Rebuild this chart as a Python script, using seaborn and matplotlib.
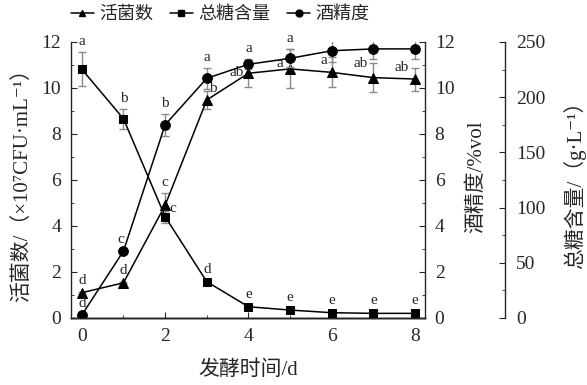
import matplotlib
matplotlib.use("Agg")
import matplotlib.pyplot as plt
from matplotlib.ticker import MultipleLocator
from matplotlib.lines import Line2D
import seaborn as sns
import pandas as pd

# ---------------- data ----------------
days = [0, 1, 2, 3, 4, 5, 6, 7, 8]
viable = [1.10, 1.53, 4.90, 9.48, 10.64, 10.83, 10.68, 10.45, 10.39]
viable_err = [0.05, 0.05, 0.52, 0.41, 0.59, 0.85, 0.65, 0.63, 0.50]
viable_letters = ["d", "d", "c", "b", "ab", "a", "a", "ab", "ab"]

sugar = [225.3, 180.5, 91.8, 32.9, 10.2, 7.2, 4.8, 4.2, 4.2]
sugar_err = [15.4, 9.0, 5.4, 0.8, 0.5, 0.5, 0.5, 0.5, 0.5]
sugar_letters = ["a", "b", "c", "d", "e", "e", "e", "e", "e"]

alcohol = [0.13, 2.91, 8.40, 10.42, 11.03, 11.29, 11.62, 11.70, 11.70]
alcohol_err = [0.02, 0.05, 0.48, 0.46, 0.22, 0.39, 0.47, 0.43, 0.43]
alcohol_letters = ["d", "c", "b", "a", "a", "a", "a", "a", "a"]

legend_labels = ["活菌数", "总糖含量", "酒精度"]
xlabel = "发酵时间/d"
ylabel_left = "活菌数/（×10⁷CFU·mL⁻¹）"
ylabel_alc = "酒精度/%vol"
ylabel_sugar = "总糖含量/（g·L⁻¹）"

# ---------------- style ----------------
sns.set_style("ticks")
FAM = ["Liberation Serif", "Noto Sans CJK SC", "DejaVu Serif"]
plt.rcParams["font.family"] = FAM
plt.rcParams["axes.linewidth"] = 1.0
plt.rcParams["xtick.direction"] = "in"
plt.rcParams["ytick.direction"] = "in"

fig = plt.figure(figsize=(5.87, 3.85), dpi=100)
ax = fig.add_axes([71 / 587, 1 - 318 / 385, 354 / 587, 276 / 385])
ax2 = ax.twinx()
ax3 = ax.twinx()
ax3.spines["right"].set_position(("outward", 80 * 72 / 100))

for a in (ax, ax2, ax3):
    a.spines["top"].set_visible(False)
    a.set_facecolor("none")
ax.spines["right"].set_visible(False)
ax2.spines["left"].set_visible(False)
ax3.spines["left"].set_visible(False)

ERR_C = "#8a8a8a"
LW = 1.1

df = pd.DataFrame({"day": days, "viable": viable, "sugar": sugar, "alcohol": alcohol})

sns.lineplot(data=df, x="day", y="viable", ax=ax, color="black", marker="^",
             markersize=7, markeredgecolor="black", linewidth=LW, zorder=3)
ax.errorbar(days, viable, yerr=viable_err, fmt="none", ecolor=ERR_C,
            elinewidth=1.0, capsize=3, capthick=1.0, zorder=2)

sns.lineplot(data=df, x="day", y="alcohol", ax=ax2, color="black", marker="o",
             markersize=7, markeredgecolor="black", linewidth=LW, zorder=3)
ax2.errorbar(days, alcohol, yerr=alcohol_err, fmt="none", ecolor=ERR_C,
             elinewidth=1.0, capsize=3, capthick=1.0, zorder=2)

sns.lineplot(data=df, x="day", y="sugar", ax=ax3, color="black", marker="s",
             markersize=6, markeredgecolor="black", linewidth=LW, zorder=3)
ax3.errorbar(days, sugar, yerr=sugar_err, fmt="none", ecolor=ERR_C,
             elinewidth=1.0, capsize=3, capthick=1.0, zorder=2)

# ---------------- axes ----------------
ax.set_xlim(-0.26, 8.24)
ax.set_ylim(0, 12)
ax2.set_ylim(0, 12)
ax3.set_ylim(0, 250)

ax.xaxis.set_major_locator(MultipleLocator(2))
ax.xaxis.set_minor_locator(MultipleLocator(1))
ax.yaxis.set_major_locator(MultipleLocator(2))
ax.yaxis.set_minor_locator(MultipleLocator(1))
ax2.yaxis.set_major_locator(MultipleLocator(2))
ax2.yaxis.set_minor_locator(MultipleLocator(1))
ax3.yaxis.set_major_locator(MultipleLocator(50))
ax3.yaxis.set_minor_locator(MultipleLocator(25))

ax.tick_params(axis="x", which="major", length=4, labelsize=14, pad=7)
ax.tick_params(axis="x", which="minor", length=2.5)
ax.tick_params(axis="y", which="major", length=4, labelsize=14, pad=7)
ax.tick_params(axis="y", which="minor", length=2.5)
ax2.tick_params(axis="y", which="major", length=4, labelsize=14, pad=7)
ax2.tick_params(axis="y", which="minor", length=2.5)
ax3.tick_params(axis="y", which="major", length=4, labelsize=14, pad=8)
ax3.tick_params(axis="y", which="minor", length=2.5)

ax.set_xlabel(xlabel, fontsize=15)
ax.set_ylabel(ylabel_left, fontsize=15)
ax2.set_ylabel(ylabel_alc, fontsize=15)
ax3.set_ylabel(ylabel_sugar, fontsize=15)
ax.xaxis.set_label_coords(0.5, -0.152)
ax.yaxis.set_label_coords(-0.110, 0.5)
ax2.yaxis.set_label_coords(1.119, 0.51)
ax3.yaxis.set_label_coords(1.390, 0.5)

# ---------------- significance letters ----------------
LFS = 11
def put_letters(a, vals, errs, letters, special):
    for i, (v, e, t) in enumerate(zip(vals, errs, letters)):
        if i in special:
            dx, dy = special[i]
            a.annotate(t, (days[i], v), xytext=(dx, dy), textcoords="offset points",
                       ha="center", va="center", fontsize=LFS, zorder=5)
        else:
            a.annotate(t, (days[i], v + e), xytext=(0, 7.5), textcoords="offset points",
                       ha="center", va="center", fontsize=LFS, zorder=5)

put_letters(ax, viable, viable_err, viable_letters,
            {0: (0, 8.5), 1: (0, 9), 3: (4.5, 8.5), 4: (-8.6, 0.5), 5: (-7, 3.6),
             6: (-6, 8.6), 7: (-9.4, 10), 8: (-9.6, 8)})
put_letters(ax2, alcohol, alcohol_err, alcohol_letters,
            {0: (0, 8), 1: (-2, 8.6)})
put_letters(ax3, sugar, sugar_err, sugar_letters,
            {2: (5.5, 5.8), 3: (0, 8.6), 4: (0, 9), 5: (0, 9), 6: (0, 9),
             7: (0, 9), 8: (0, 9)})

# ---------------- legend ----------------
handles = [
    Line2D([], [], color="black", marker="^", markersize=5, linewidth=LW),
    Line2D([], [], color="black", marker="s", markersize=4.5, linewidth=LW),
    Line2D([], [], color="black", marker="o", markersize=5, linewidth=LW),
]
fig.legend(handles, legend_labels, loc="center", bbox_to_anchor=(0.375, 0.962),
           ncol=3, frameon=False, fontsize=13, handlelength=1.3,
           handletextpad=0.3, columnspacing=0.9)

fig.savefig("out.png", dpi=100)
